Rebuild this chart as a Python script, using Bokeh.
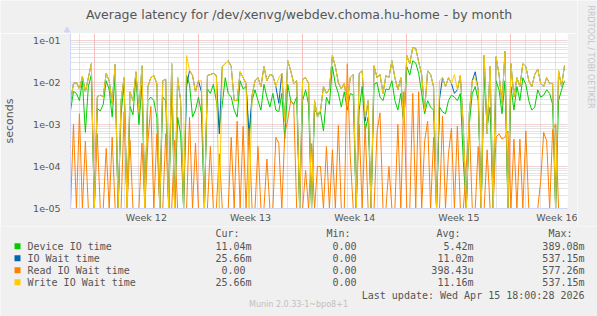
import numpy as np
from bokeh.plotting import figure
from bokeh.layouts import column, row
from bokeh.models import (Range1d, FixedTicker, CustomJSTickFormatter, Label)
from bokeh.embed import file_html
from bokeh.resources import INLINE

# ---------------- data (milliseconds, one sample every 0.2 day) ----------------
device_ms = [2.1, 6.1, 5.5, 3.7, 11, 0.65, 8, 15, 0, 2.4, 2.1, 3, 11, 6.7, 1.5, 15, 0, 1.8, 9, 0, 2.7, 1.7, 14, 1.0, 8.5, 0, 3.7, 4.5,
             3.7, 1.5, 0, 4.5, 3.7, 0, 9, 0, 1.5, 0.6, 0, 15, 9, 1.5, 2.2, 4.5, 1.8, 0, 7, 5.5, 9, 3.7, 0.85, 3, 13, 5.5, 4.5, 2.2,
             1.5, 11, 7, 8, 0.4, 3.7, 6.7, 3.7, 2.2, 9, 4.5, 2.6, 5.5, 2.2, 2.0, 5.5, 0.46, 9, 3.7, 3, 4.5, 0, 3.7, 6.7, 3, 0, 2.2, 1.8,
             2.0, 0.7, 4.5, 3, 24, 9, 5.5, 2.6, 6, 2.2, 5.5, 5, 0, 2.2, 8, 0.7, 1.5, 0, 9, 10, 4.5, 3.7, 7, 6.7, 11, 3.7, 2.2, 5.5,
             1.0, 24, 15, 33, 29, 16.5, 5.5, 1.8, 3.7, 2.6, 2.2, 0, 2.6, 2.0, 1.8, 3.7, 5, 4.5, 3.7, 5.5, 0.13, 0, 1.0, 5.5, 8, 3.7, 0, 13,
             0.9, 2.6, 0, 11, 6.7, 1.8, 11, 0, 8, 2.2, 8, 3.7, 13, 9, 3.7, 2.2, 2.6, 6.7, 4.5, 5, 6.7, 5.5, 3, 0, 3.7, 6.7, 11.04]

io_wait_ms = [3.5, 9.5, 10, 7, 14, 6, 13, 28, 0, 4.6, 5, 4.6, 16.5, 11, 3.2, 27, 0, 3.7, 13, 0, 6, 3.7, 18, 1.9, 25, 0, 8, 13,
              14.7, 9.5, 0, 11, 12, 0, 28, 0, 13, 3.7, 0, 8, 19.3, 14.7, 6, 11, 6, 0, 14.7, 15.5, 16.5, 14.7, 0.6, 24, 28, 33, 24, 3.7,
              3.7, 18, 13, 9.5, 0.55, 4.9, 11, 13, 8, 24, 11, 15.5, 14.7, 8, 3.2, 16.5, 1.2, 33, 19, 9.5, 11, 0, 12, 13, 9.5, 0, 3.7, 1.5,
              2.1, 8, 5.5, 7, 44, 24, 10, 7, 9.5, 3.2, 13, 15.5, 0, 16.5, 19, 1.2, 3.7, 0, 25, 13, 15.5, 5.5, 14.7, 13, 33, 13, 6.7, 13,
              1.0, 44, 28, 68, 65, 31, 15.5, 2.1, 19, 15.5, 8, 0, 4, 13, 8, 13, 9.5, 5.5, 6.7, 14.7, 0.85, 0, 1.8, 11, 18, 6.7, 0, 44,
              0.6, 24, 0, 41, 15.5, 3.2, 55, 0, 28, 4.5, 13, 8, 28, 24, 11, 8, 15.5, 21, 9.5, 8, 13, 9.5, 9.5, 0, 19, 8, 25.66]

read_ms = [0, 1.0, 0, 1.8, 0, 0.4, 0, 0, 0, 0.6, 0, 0, 0.27, 0, 0.5, 0, 0, 0, 2.0, 0, 0.42, 0, 0, 0, 0.36, 0, 0.4, 2.7,
           0, 0.6, 0, 0, 0.6, 0, 0, 0.42, 0, 0, 0, 0, 1.5, 0, 0.36, 0, 0, 0, 0, 0.3, 0, 0, 0.2, 0, 0, 0, 0.5, 0,
           1.2, 0, 0.9, 0, 0.8, 0, 0, 0.3, 0, 0, 0.15, 0, 0, 0.5, 0.35, 0, 0.6, 1.3, 3.7, 3.0, 0, 0, 0, 0.08, 0, 0.35, 0, 0.1,
           0.1, 0, 0.3, 0, 0.25, 0, 0.95, 0, 0, 28, 0.18, 0, 0, 1.0, 0, 1.0, 0, 0, 0, 0.67, 1.9, 0, 0, 0.1, 0, 0, 1.0, 0,
           6, 0, 0, 5.5, 0, 6, 0, 0.4, 1.2, 0, 0.5, 0, 0, 1.6, 0, 0.2, 0.8, 0, 0.9, 0, 0, 0.1, 1.2, 0, 0, 0.3, 0, 0,
           0.25, 0, 0, 0.5, 0.6, 0.45, 0.5, 0.7, 0, 0.45, 0, 0.45, 0, 0.7, 0, 0, 0, 0, 0.046, 0.65, 0.4, 0, 0.75, 1.0, 0, 0, 0]

write_ms = [3.5, 9.5, 10, 7, 14, 6, 13, 28, 0, 4.6, 5, 4.6, 16.5, 11, 3.2, 27, 0, 3.7, 13, 0, 6, 3.7, 18, 1.9, 25, 0, 8, 13,
            14.7, 9.5, 0, 11, 12, 0, 28, 0, 13, 3.7, 0, 44, 19.3, 14.7, 6, 11, 11, 0, 14.7, 15.5, 16.5, 14.7, 0, 24, 28, 33, 24, 3.7,
            3.7, 18, 13, 9.5, 0, 4.9, 11, 13, 8, 24, 11, 15.5, 14.7, 8, 13, 16.5, 1.2, 33, 19, 9.5, 11, 0, 12, 13, 9.5, 0, 3.7, 1.5,
            2.1, 8, 5.5, 7, 44, 24, 10, 7, 9.5, 3.2, 13, 15.5, 0, 16.5, 19, 1.5, 3.7, 0, 25, 13, 15.5, 5.5, 14.7, 13, 33, 13, 6.7, 13,
            1.0, 44, 28, 68, 65, 31, 15.5, 2.1, 19, 15.5, 8, 0, 11, 13, 8, 13, 9.5, 15.5, 6.7, 14.7, 0.85, 0, 1.8, 11, 13, 6.7, 0, 44,
            0.6, 24, 0, 41, 15.5, 3.2, 55, 0, 28, 4.5, 13, 8, 28, 24, 11, 8, 15.5, 21, 9.5, 8, 13, 9.5, 9.5, 0, 19, 8, 25.66]

series_names = ["Device IO time", "IO Wait time", "Read IO Wait time", "Write IO Wait time"]
series_colors = ["#00CC00", "#0066B3", "#FF8000", "#FFCC00"]
cur_vals = ["11.04m", "25.66m", "0.00", "25.66m"]
min_vals = ["0.00", "0.00", "0.00", "0.00"]
avg_vals = ["5.42m", "11.02m", "398.43u", "11.16m"]
max_vals = ["389.08m", "537.15m", "577.26m", "537.15m"]
week_labels = ["Week 12", "Week 13", "Week 14", "Week 15", "Week 16"]
y_tick_labels = ["1e-05", "1e-04", "1e-03", "1e-02", "1e-01"]
title_text = "Average latency for /dev/xenvg/webdev.choma.hu-home - by month"
last_update = "Last update: Wed Apr 15 18:00:28 2026"
munin_version = "Munin 2.0.33-1~bpo8+1"
watermark = "RRDTOOL / TOBI OETIKER"

# ---------------- geometry (page pixels) ----------------
STEP_DAYS = 0.2
SPAN_DAYS = 33.4
YMIN, YMAX = 1e-5, 10 ** (-5 + 175 / 42)
TEXT = "#555555"
AXIS = "#CFD6F8"
BG = "#F0F0F0"
PAGE_W, PAGE_H = 597, 316
FRAME_L = 66
TOP_Y = 33          # chart frame top
CHART_BOTTOM = 226  # bottom of the chart figure / top of the legend panel
WM_W = 20           # width of the right-hand watermark strip
CHART_W = PAGE_W - WM_W


def no_frame_align(fig):
    try:
        fig.frame_align = False
    except Exception:
        pass


def strip(x0, x1, y0, y1):
    """A figure whose data coordinates are page pixels (y downward)."""
    f = figure(width=x1 - x0, height=y1 - y0, x_range=Range1d(x0, x1), y_range=Range1d(y1, y0),
               output_backend="svg", toolbar_location=None, min_border=0,
               x_axis_location=None, y_axis_location=None,
               background_fill_color=BG, border_fill_color=BG, outline_line_color=None)
    f.xgrid.visible = False
    f.ygrid.visible = False
    no_frame_align(f)
    return f


def lab(fig, text, X, Y, align="left", size="10px", color=TEXT, font="DejaVu Sans Mono", angle=0.0):
    fig.add_layout(Label(x=X, y=Y, text=text, text_align=align, text_baseline="middle",
                         text_font_size=size, text_color=color, text_font=font, angle=angle))


# ---------------- title strip ----------------
t = strip(0, CHART_W, 0, TOP_Y)
lab(t, title_text, 298.5, 13.5, align="center", size="12.5px", font="DejaVu Sans")
# top of the y axis: its arrow head, as RRDtool draws it
t.segment(x0=[FRAME_L + 0.5], y0=[30], x1=[FRAME_L + 0.5], y1=[TOP_Y], line_color=AXIS, line_width=1)
t.patch(x=[FRAME_L - 2.5, FRAME_L + 3.5, FRAME_L + 0.5], y=[31.5, 31.5, 26.5],
        fill_color=AXIS, line_color=AXIS)

# ---------------- chart ----------------
n = len(write_ms)
x = np.arange(n) * STEP_DAYS

p = figure(width=CHART_W, height=CHART_BOTTOM - TOP_Y, x_range=Range1d(0, SPAN_DAYS), y_range=Range1d(YMIN, YMAX),
           y_axis_type="log", output_backend="svg", toolbar_location=None,
           min_border_left=FRAME_L, min_border_right=CHART_W - 567, min_border_top=0, min_border_bottom=18,
           background_fill_color="white", border_fill_color=BG, outline_line_color=None)
no_frame_align(p)

decades = [1e-5, 1e-4, 1e-3, 1e-2, 1e-1]
minors = [m * d for d in decades for m in range(2, 10) if m * d < YMAX]
p.yaxis.ticker = FixedTicker(ticks=decades, minor_ticks=minors)
p.yaxis.formatter = CustomJSTickFormatter(args=dict(labels=y_tick_labels),
                                          code="return labels[Math.round(Math.log10(tick)) + 5];")
p.yaxis.axis_label = "seconds"
p.yaxis.axis_label_text_font = "DejaVu Sans"
p.yaxis.axis_label_text_font_size = "11px"
p.yaxis.axis_label_text_font_style = "normal"
p.yaxis.axis_label_text_color = TEXT
p.yaxis.axis_label_standoff = 14
p.ygrid.grid_line_color = "#E8A0A0"
p.ygrid.grid_line_dash = "1 1"
p.ygrid.minor_grid_line_color = "#C8C8C8"
p.ygrid.minor_grid_line_dash = "1 1"

week_pos = [1.6 + 3.5 + 7 * k for k in range(len(week_labels))]
red_pos = [1.6 + 7 * k for k in range(5)]
day_pos = [0.6 + k for k in range(34) if all(abs(0.6 + k - r) > 0.01 for r in red_pos) and 0.6 + k < SPAN_DAYS]
p.xaxis.ticker = FixedTicker(ticks=week_pos)
p.xaxis.formatter = CustomJSTickFormatter(args=dict(pos=week_pos, labels=week_labels), code="""
const i = pos.findIndex(q => Math.abs(q - tick) < 1e-6);
return i >= 0 ? labels[i] : '';
""")
p.xgrid.ticker = FixedTicker(ticks=red_pos, minor_ticks=day_pos)
p.xgrid.grid_line_color = "#F08080"
p.xgrid.grid_line_dash = "1 1"
p.xgrid.minor_grid_line_color = "#C8C8C8"
p.xgrid.minor_grid_line_dash = "1 1"

for ax in (p.xaxis[0], p.yaxis[0]):
    ax.axis_line_color = AXIS
    ax.major_tick_line_color = None
    ax.minor_tick_line_color = None
    ax.major_tick_out = 0
    ax.major_tick_in = 0
    ax.major_label_text_font = "DejaVu Sans"
    ax.major_label_text_font_size = "9.5px"
    ax.major_label_text_color = TEXT
p.yaxis.major_label_standoff = 6
p.xaxis.major_label_standoff = 3

# zero values sit on the bottom edge of the log axis, as in RRDtool
for vals, col in zip([device_ms, io_wait_ms, read_ms, write_ms], series_colors):
    v = np.array(vals, dtype=float) / 1000.0
    v = np.where(v > 0, v, YMIN)
    p.line(x, v, line_color=col, line_width=1)

# ---------------- watermark strip ----------------
wm = strip(CHART_W, PAGE_W, 0, CHART_BOTTOM)
lab(wm, watermark, 590, 5, align="left", size="8px", color="#C4C4C4", font="DejaVu Sans", angle=-np.pi / 2)

# ---------------- legend panel ----------------
q = strip(0, PAGE_W, CHART_BOTTOM, PAGE_H)
CW = 6.02
row_y = [245.7, 257.7, 269.7, 281.7]
head_y = 233.3
lab(q, "Cur:", 215, head_y)
lab(q, "Min:", 326, head_y)
lab(q, "Avg:", 436, head_y)
lab(q, "Max:", 548, head_y)
q.quad(left=[14] * 4, right=[20] * 4, top=[y - 3 for y in row_y], bottom=[y + 3 for y in row_y],
       fill_color=series_colors, line_color=None)
for i, name in enumerate(series_names):
    y = row_y[i]
    lab(q, name, 27, y)
    for val, end in ((cur_vals[i], 251), (min_vals[i], 362), (avg_vals[i], 473), (max_vals[i], 584)):
        right = end if val[-1].isalpha() else end - CW
        lab(q, val, right, y, align="right")
lab(q, last_update, 584, 295, align="right")
lab(q, munin_version, 298, 304, align="center", size="8px", color="#C0C0C0", font="DejaVu Sans")

layout = column(row(column(t, p, spacing=0), wm, spacing=0), q, spacing=0)
open("out.html", "w").write(file_html(layout, INLINE))
